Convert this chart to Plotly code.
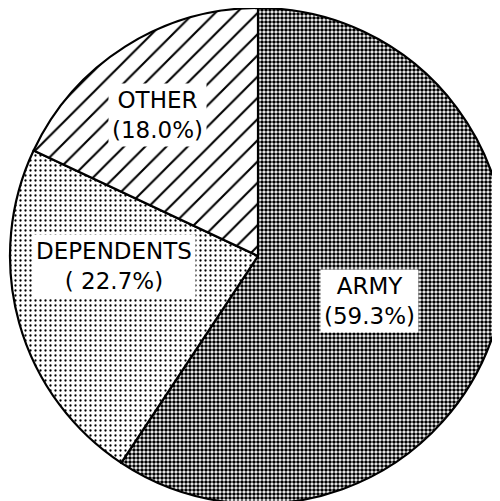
import plotly.graph_objects as go

categories = ["ARMY", "DEPENDENTS", "OTHER"]
percent = [59.3, 22.7, 18.0]
label_text = ["ARMY<br>(59.3%)", "DEPENDENTS<br>( 22.7%)", "OTHER<br>(18.0%)"]

W, H = 500, 501
OFF = 8  # page body margin
ML, MR, MT, MB = 2, 2, 0, 5

fig = go.Figure(go.Pie(
    labels=categories,
    values=percent,
    sort=False,
    direction="clockwise",
    rotation=0,
    textinfo="none",
    hoverinfo="label+percent",
    showlegend=False,
    marker=dict(
        colors=["white", "white", "white"],
        line=dict(color="black", width=2.2),
        pattern=dict(
            shape=[".", ".", "/"],
            size=[4, 5, 15],
            solidity=[0.62, 0.17, 0.14],
            fgcolor="black",
            bgcolor="white",
            fillmode="replace",
        ),
    ),
))

def px_to_paper(x, y):
    x -= OFF
    y -= OFF
    return (x - ML) / (W - ML - MR), 1 - (y - MT) / (H - MT - MB)

label_pos = [(369, 301), (114, 266), (157, 115)]
annotations = []
for txt, (x, y) in zip(label_text, label_pos):
    ax, ay = px_to_paper(x, y)
    annotations.append(dict(
        x=ax, y=ay, xref="paper", yref="paper", text=txt, showarrow=False,
        xanchor="center", yanchor="middle",
        font=dict(family="DejaVu Sans", size=23, color="black"),
        bgcolor="white", borderpad=3, align="center",
    ))

fig.update_layout(
    width=W, height=H,
    margin=dict(l=ML, r=MR, t=MT, b=MB),
    paper_bgcolor="white", plot_bgcolor="white",
    annotations=annotations,
)

fig.write_html("out.html")
